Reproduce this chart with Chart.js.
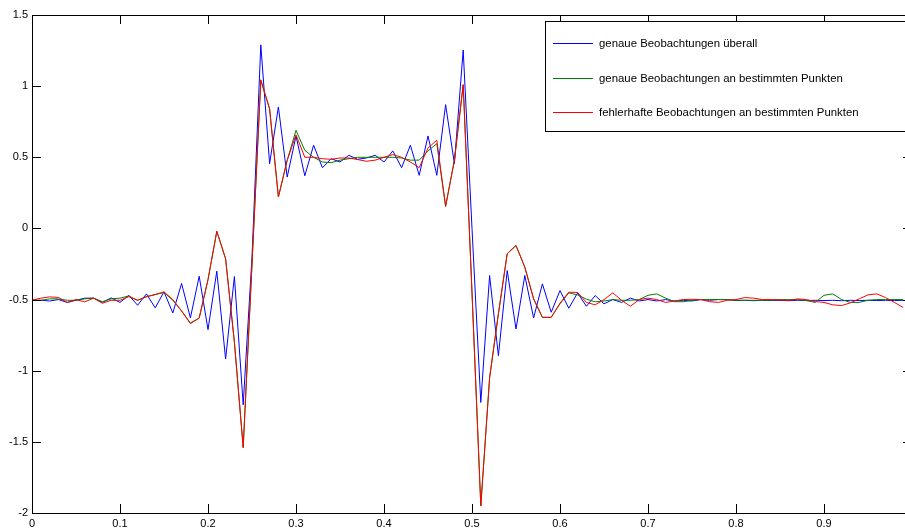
<!DOCTYPE html>
<html>
<head>
<meta charset="utf-8">
<script src="https://cdn.jsdelivr.net/npm/chart.js@4.4.0/dist/chart.umd.min.js"></script>
<style>
  html, body { margin: 0; padding: 0; background: #fff; overflow: hidden; }
  #wrap { width: 905px; height: 530px; overflow: hidden; }
  #chart { display: block; }
</style>
</head>
<body>
<div id="wrap"><canvas id="chart" width="930" height="530"></canvas></div>
<script>
// ***** Inicio de datos *****
const xStep = 0.01

const blueValues = [
  -0.505, -0.505, -0.51, -0.50, -0.52, -0.505, -0.49, -0.49, -0.52, -0.488,
  -0.52, -0.47, -0.54, -0.46, -0.558, -0.446, -0.594, -0.387, -0.629, -0.336,
  -0.711, -0.30, -0.918, -0.338, -1.239, -0.2, 1.29, 0.455, 0.854, 0.361,
  0.65, 0.37, 0.585, 0.427, 0.49, 0.467, 0.514, 0.486, 0.495, 0.514,
  0.467, 0.545, 0.427, 0.585, 0.373, 0.65, 0.373, 0.87, 0.455, 1.254,
  0.0, -1.223, -0.331, -0.894, -0.296, -0.707, -0.331, -0.629, -0.39, -0.589,
  -0.437, -0.561, -0.453, -0.547, -0.472, -0.53, -0.50, -0.52, -0.49, -0.51,
  -0.50, -0.51, -0.50, -0.51, -0.505, -0.51, -0.50, -0.505, -0.50, -0.50,
  -0.507, -0.505, -0.508, -0.505, -0.507, -0.505, -0.508, -0.505, -0.507, -0.505,
  -0.507, -0.505, -0.508, -0.505, -0.507, -0.505, -0.507, -0.505, -0.507, -0.505
]

const greenValues = [
  -0.505, -0.505, -0.495, -0.495, -0.505, -0.505, -0.495, -0.49, -0.515, -0.495,
  -0.49, -0.475, -0.505, -0.48, -0.465, -0.45, -0.505, -0.58, -0.665, -0.63,
  -0.36, -0.02, -0.213, -0.80, -1.54, -0.25, 1.04, 0.84, 0.221, 0.479,
  0.69, 0.549, 0.50, 0.467, 0.462, 0.48, 0.49, 0.50, 0.50, 0.50,
  0.50, 0.50, 0.495, 0.48, 0.48, 0.545, 0.596, 0.155, 0.479, 1.01,
  -0.45, -1.95, -1.05, -0.60, -0.178, -0.12, -0.272, -0.495, -0.625, -0.625,
  -0.53, -0.453, -0.467, -0.497, -0.516, -0.51, -0.50, -0.505, -0.505, -0.50,
  -0.47, -0.46, -0.49, -0.515, -0.515, -0.505, -0.50, -0.50, -0.50, -0.50,
  -0.505, -0.505, -0.505, -0.505, -0.505, -0.50, -0.50, -0.50, -0.507, -0.52,
  -0.47, -0.46, -0.50, -0.52, -0.52, -0.505, -0.50, -0.50, -0.50, -0.50
]

const redValues = [
  -0.505, -0.49, -0.481, -0.485, -0.52, -0.50, -0.516, -0.49, -0.526, -0.505,
  -0.505, -0.48, -0.505, -0.48, -0.465, -0.446, -0.50, -0.58, -0.669, -0.63,
  -0.36, -0.02, -0.213, -0.80, -1.54, -0.25, 1.045, 0.84, 0.221, 0.479,
  0.658, 0.50, 0.50, 0.49, 0.486, 0.495, 0.495, 0.484, 0.472, 0.48,
  0.50, 0.519, 0.50, 0.467, 0.427, 0.565, 0.62, 0.155, 0.479, 1.01,
  -0.45, -1.95, -1.05, -0.60, -0.178, -0.12, -0.272, -0.495, -0.625, -0.625,
  -0.525, -0.448, -0.45, -0.52, -0.537, -0.50, -0.453, -0.505, -0.547, -0.50,
  -0.49, -0.50, -0.52, -0.51, -0.50, -0.498, -0.50, -0.515, -0.52, -0.505,
  -0.50, -0.486, -0.49, -0.50, -0.50, -0.502, -0.507, -0.495, -0.50, -0.514,
  -0.52, -0.537, -0.542, -0.523, -0.495, -0.467, -0.46, -0.486, -0.52, -0.556
]

const seriesLabels = [
  'genaue Beobachtungen überall',
  'genaue Beobachtungen an bestimmten Punkten',
  'fehlerhafte Beobachtungen an bestimmten Punkten'
]
const seriesColors = ['#0000ff', '#008000', '#ff0000']

const xTicks = [0, 0.1, 0.2, 0.3, 0.4, 0.5, 0.6, 0.7, 0.8, 0.9]
const xTickLabels = ['0', '0.1', '0.2', '0.3', '0.4', '0.5', '0.6', '0.7', '0.8', '0.9']
const yTicks = [-2, -1.5, -1, -0.5, 0, 0.5, 1, 1.5]
const yTickLabels = ['-2', '-1.5', '-1', '-0.5', '0', '0.5', '1', '1.5']
// ***** Fin de datos *****

const fontFamily = '"Liberation Sans", Arial, sans-serif'
const tickLen = 9

const toPoints = vals => vals.map((v, k) => ({ x: k * xStep, y: v }))

// ***** Marco, ticks hacia dentro y leyenda *****
const framePlugin = {
  id: 'frame',
  afterDraw(chart) {
    const { ctx, chartArea: a, scales: { x, y } } = chart
    ctx.save()
    ctx.strokeStyle = '#000'
    ctx.lineWidth = 1
    ctx.beginPath()
    ctx.moveTo(a.left + 0.5, a.top + 0.5)
    ctx.lineTo(a.left + 0.5, a.bottom + 0.5)
    ctx.lineTo(a.right + 0.5, a.bottom + 0.5)
    ctx.lineTo(a.right + 0.5, a.top + 0.5)
    ctx.closePath()
    xTicks.forEach(v => {
      const px = Math.round(x.getPixelForValue(v)) + 0.5
      ctx.moveTo(px, a.bottom)
      ctx.lineTo(px, a.bottom - tickLen)
      ctx.moveTo(px, a.top)
      ctx.lineTo(px, a.top + tickLen)
    })
    yTicks.forEach(v => {
      const py = Math.round(y.getPixelForValue(v)) + 0.5
      ctx.moveTo(a.left, py)
      ctx.lineTo(a.left + tickLen, py)
      ctx.moveTo(a.right, py)
      ctx.lineTo(a.right - tickLen, py)
    })
    ctx.stroke()

    // leyenda
    const lx = 545.5, ly = 21.5, lw = 380, lh = 110
    ctx.fillStyle = '#fff'
    ctx.fillRect(lx, ly, lw, lh)
    ctx.strokeRect(lx, ly, lw, lh)
    ctx.font = '11.4px ' + fontFamily
    ctx.textBaseline = 'middle'
    ctx.textAlign = 'left'
    chart.data.datasets.forEach((ds, i) => {
      const yy = Math.round(43 + i * 34.7) + 0.5
      ctx.strokeStyle = ds.borderColor
      ctx.beginPath()
      ctx.moveTo(553, yy)
      ctx.lineTo(593, yy)
      ctx.stroke()
      ctx.fillStyle = '#000'
      ctx.fillText(ds.label, 599, yy)
    })
    ctx.restore()
  }
}

// ***** Inicio del grafico *****
const ctx = document.getElementById('chart').getContext('2d')
const datasets = [blueValues, greenValues, redValues].map((vals, i) => ({
  label: seriesLabels[i],
  data: toPoints(vals),
  borderColor: seriesColors[i],
  backgroundColor: seriesColors[i],
  borderWidth: 1,
  pointRadius: 0,
  tension: 0,
  fill: false,
  order: 3 - i
}))

const myChart = new Chart(ctx, {
  type: 'line',
  data: { datasets },
  options: {
    responsive: false,
    animation: false,
    events: [],
    layout: { padding: { top: 15, right: 18, left: 0, bottom: 0 } },
    plugins: { legend: { display: false }, tooltip: { enabled: false } },
    scales: {
      x: {
        type: 'linear',
        min: 0,
        max: 1,
        grid: { display: false, drawTicks: false },
        border: { display: false },
        afterBuildTicks: s => { s.ticks = xTicks.map(v => ({ value: v })) },
        afterFit: s => { s.height = 17 },
        ticks: {
          callback: (v, i) => xTickLabels[i],
          autoSkip: false,
          maxRotation: 0,
          padding: 4,
          color: '#000',
          font: { family: fontFamily, size: 11 }
        }
      },
      y: {
        type: 'linear',
        min: -2,
        max: 1.5,
        grid: { display: false, drawTicks: false },
        border: { display: false },
        afterBuildTicks: s => { s.ticks = yTicks.map(v => ({ value: v })) },
        afterFit: s => { s.width = 32 },
        ticks: {
          callback: (v, i) => yTickLabels[i],
          autoSkip: false,
          padding: 4,
          color: '#000',
          font: { family: fontFamily, size: 11 }
        }
      }
    }
  },
  plugins: [framePlugin]
})
// ***** Fin del grafico *****
</script>
</body>
</html>
